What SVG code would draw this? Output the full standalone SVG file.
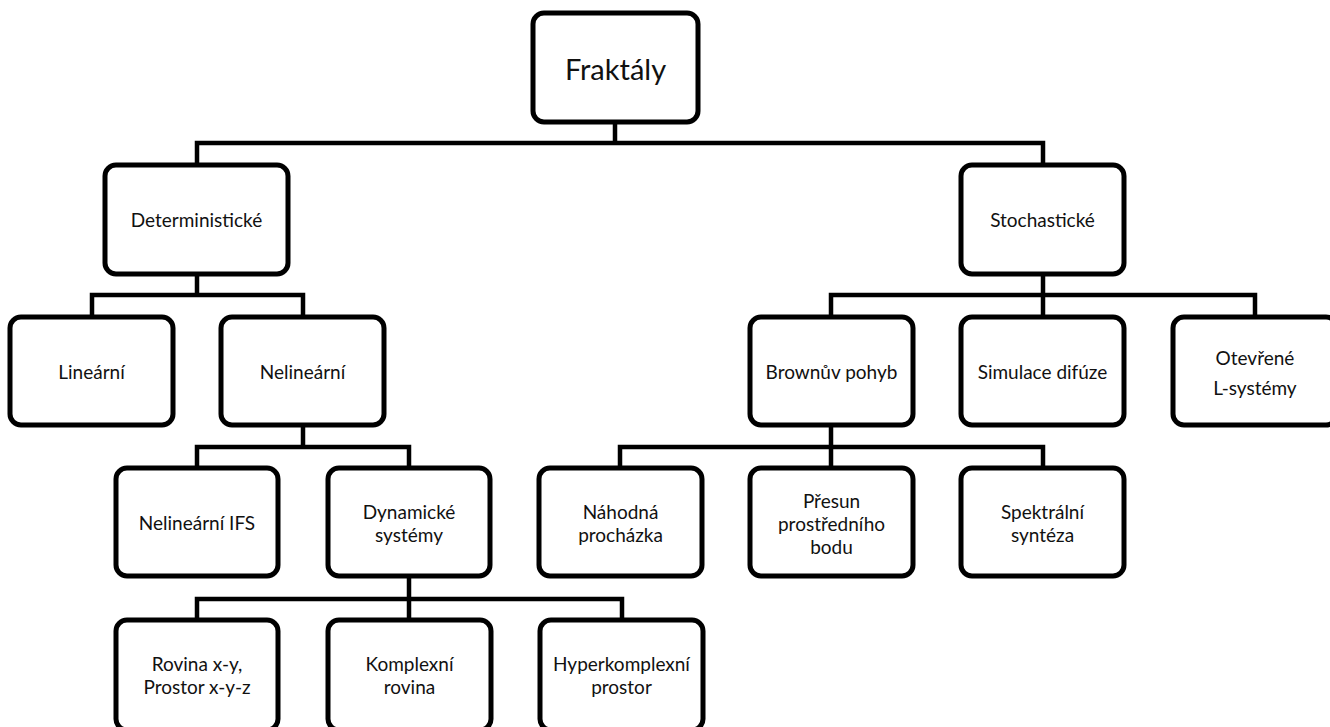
<svg xmlns="http://www.w3.org/2000/svg" width="1330" height="727" viewBox="0 0 1330 727">
<style>
.box{fill:#fff;stroke:#000;stroke-width:5}
.c{fill:none;stroke:#000;stroke-width:4.5;stroke-linejoin:miter;stroke-linecap:butt}
text{font-family:Lato,"Open Sans","Liberation Sans",sans-serif;font-size:19px;fill:#111;text-anchor:middle;dominant-baseline:central}
.big{font-size:29px}
</style>
<rect width="1330" height="727" fill="#fff"/>
<g id="connectors">
<path class="c" d="M615 122V143M197 165V143H1043V165"/>
<path class="c" d="M197 274V295M92 317V295H303V317"/>
<path class="c" d="M1043 274V317M831 317V295H1255V317"/>
<path class="c" d="M303 425V447M197 468V447H409V468"/>
<path class="c" d="M831 425V468M620 468V447H1043V468"/>
<path class="c" d="M409 576V620M197 620V599H622V620"/>
</g>
<g id="n-root"><rect class="box" x="533" y="13" width="165" height="109" rx="11"/><text class="big" x="615.5" y="68">Fraktály</text></g>
<g id="n-det"><rect class="box" x="105" y="165" width="183" height="109" rx="11"/><text x="196.5" y="219">Deterministické</text></g>
<g id="n-sto"><rect class="box" x="961" y="165" width="163" height="109" rx="11"/><text x="1042.5" y="219">Stochastické</text></g>
<g id="n-lin"><rect class="box" x="10" y="317" width="163" height="108" rx="11"/><text x="91.5" y="371">Lineární</text></g>
<g id="n-nelin"><rect class="box" x="221" y="317" width="163" height="108" rx="11"/><text x="302.5" y="371">Nelineární</text></g>
<g id="n-brown"><rect class="box" x="750" y="317" width="163" height="108" rx="11"/><text x="831.5" y="371">Brownův pohyb</text></g>
<g id="n-sim"><rect class="box" x="961" y="317" width="163" height="108" rx="11"/><text x="1042.5" y="371">Simulace difúze</text></g>
<g id="n-otev"><rect class="box" x="1173" y="317" width="164" height="108" rx="11"/><text x="1255" y="357">Otevřené</text><text x="1255" y="387">L-systémy</text></g>
<g id="n-ifs"><rect class="box" x="116" y="468" width="162" height="108" rx="11"/><text x="197" y="522">Nelineární IFS</text></g>
<g id="n-dyn"><rect class="box" x="328" y="468" width="162" height="108" rx="11"/><text x="409" y="511">Dynamické</text><text x="409" y="534">systémy</text></g>
<g id="n-nah"><rect class="box" x="539" y="468" width="163" height="108" rx="11"/><text x="620.5" y="511">Náhodná</text><text x="620.5" y="534">procházka</text></g>
<g id="n-pres"><rect class="box" x="750" y="468" width="163" height="108" rx="11"/><text x="831.5" y="500">Přesun</text><text x="831.5" y="523">prostředního</text><text x="831.5" y="546">bodu</text></g>
<g id="n-spek"><rect class="box" x="961" y="468" width="163" height="108" rx="11"/><text x="1042.5" y="511">Spektrální</text><text x="1042.5" y="534">syntéza</text></g>
<g id="n-rov"><rect class="box" x="116" y="620" width="162" height="110" rx="11"/><text x="197" y="663">Rovina x-y,</text><text x="197" y="686">Prostor x-y-z</text></g>
<g id="n-kom"><rect class="box" x="328" y="620" width="163" height="110" rx="11"/><text x="409.5" y="663">Komplexní</text><text x="409.5" y="686">rovina</text></g>
<g id="n-hyp"><rect class="box" x="540" y="620" width="163" height="110" rx="11"/><text x="621.5" y="663">Hyperkomplexní</text><text x="621.5" y="686">prostor</text></g>
</svg>
